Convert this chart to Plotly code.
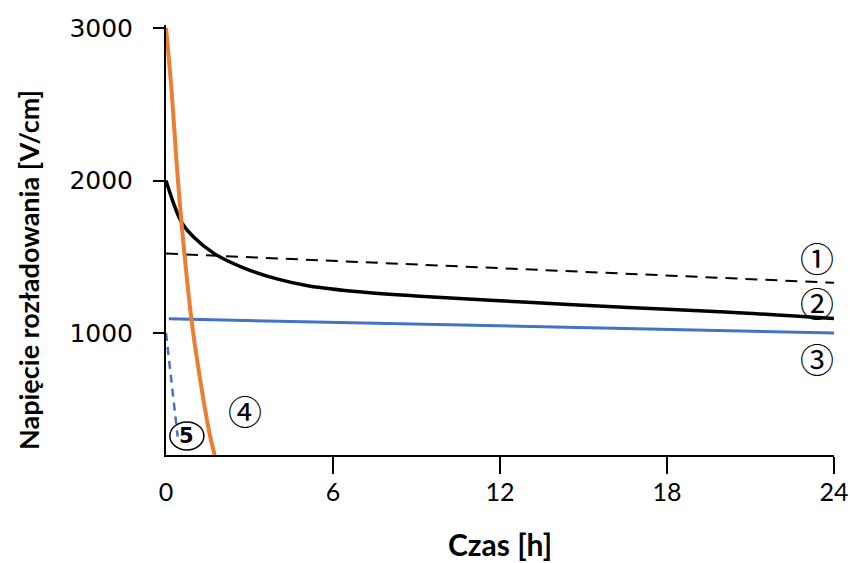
import plotly.graph_objects as go

# Data (hours, V/cm)
t1 = [0, 6, 12, 18, 24]
v1 = [1521, 1473, 1425, 1377, 1329]          # curve 1 (dashed black)

t2 = [0, 0.26, 0.56, 0.98, 1.75, 2.76, 3.95, 5.14, 7.04, 9.43, 13, 16.6, 20.1, 24]
v2 = [2000, 1857, 1726, 1631, 1519, 1429, 1357, 1309, 1269, 1238, 1202, 1167, 1138, 1095]  # curve 2

t3 = [0.1, 6, 12, 18, 24]
v3 = [1093, 1070, 1047, 1023, 1000]          # curve 3 (blue)

t4 = [0, 0.2, 0.38, 0.55, 0.91, 1.21, 1.57, 1.86]
v4 = [3000, 2590, 2120, 1738, 1095, 714, 336, 121]  # curve 4 (orange)

t5 = [0, 0.15, 0.3, 0.42]
v5 = [1000, 760, 520, 320]                   # curve 5 (dashed blue)

x_ticks = [0, 6, 12, 18, 24]
y_ticks = [1000, 2000, 3000]

BLUE = "#4472C4"
ORANGE = "#ED7D31"

fig = go.Figure()
fig.add_trace(go.Scatter(x=t1, y=v1, mode="lines",
                         line=dict(color="black", width=2, dash="12px,8px")))
fig.add_trace(go.Scatter(x=t2, y=v2, mode="lines", line_shape="spline",
                         line=dict(color="black", width=3.5, smoothing=1.0)))
fig.add_trace(go.Scatter(x=t3, y=v3, mode="lines",
                         line=dict(color=BLUE, width=3)))
fig.add_trace(go.Scatter(x=t5, y=v5, mode="lines",
                         line=dict(color=BLUE, width=2.5, dash="8px,6px")))
fig.add_trace(go.Scatter(x=t4, y=v4, mode="lines", line_shape="spline",
                         line=dict(color=ORANGE, width=4)))

circ_font = dict(family="Noto Sans CJK JP", size=34, color="black")
labels = [("①", 23.4, 1498), ("②", 23.4, 1197), ("③", 23.4, 836), ("④", 2.85, 495)]
for txt, x, y in labels:
    fig.add_annotation(x=x, y=y, xref="x", yref="y", text=txt, showarrow=False, font=circ_font)

fig.add_annotation(x=0.75, y=325, xref="x", yref="y", text="<b>5</b>", showarrow=False,
                   font=dict(family="DejaVu Sans", size=21, color="black"))
fig.add_shape(type="circle", xref="x", yref="y", xsizemode="pixel", ysizemode="pixel",
              xanchor=0.75, yanchor=325, x0=-17, x1=17, y0=-14, y1=14,
              line=dict(color="black", width=1.5))

# y-axis title as rotated annotation (centred where the reference has it)
fig.add_annotation(x=(28 - 166) / 668, y=(455 - 270) / 430, xref="paper", yref="paper",
                   text="<b>Napięcie rozładowania [V/cm]</b>",
                   textangle=-90, showarrow=False, xanchor="center", yanchor="middle",
                   font=dict(family="Lato", size=27, color="black"))

fig.update_layout(
    width=850, height=563,
    margin=dict(l=166, r=16, t=25, b=108, autoexpand=False),
    paper_bgcolor="white", plot_bgcolor="white",
    showlegend=False,
    xaxis=dict(range=[0, 24], tickvals=x_ticks, ticks="", automargin=False,
               minor=dict(tickvals=[6, 12, 18, 24], ticks="outside", ticklen=17,
                          tickwidth=1.5, tickcolor="black"),
               showline=True, linecolor="black", linewidth=2,
               showgrid=False, zeroline=False, ticklabelstandoff=14,
               ticklabeloverflow="allow",
               tickfont=dict(family="Lato", size=25, color="black"),
               title=dict(text="<b>Czas [h]</b>", standoff=30,
                          font=dict(family="Lato", size=30, color="black"))),
    yaxis=dict(range=[200, 3020], tickvals=y_ticks, ticks="outside", ticklen=11,
               tickwidth=2, tickcolor="black", automargin=False,
               showline=True, linecolor="black", linewidth=2,
               showgrid=False, zeroline=False, ticklabelstandoff=15,
               tickfont=dict(family="DejaVu Sans", size=25, color="black")),
)

fig.write_html("out.html")
